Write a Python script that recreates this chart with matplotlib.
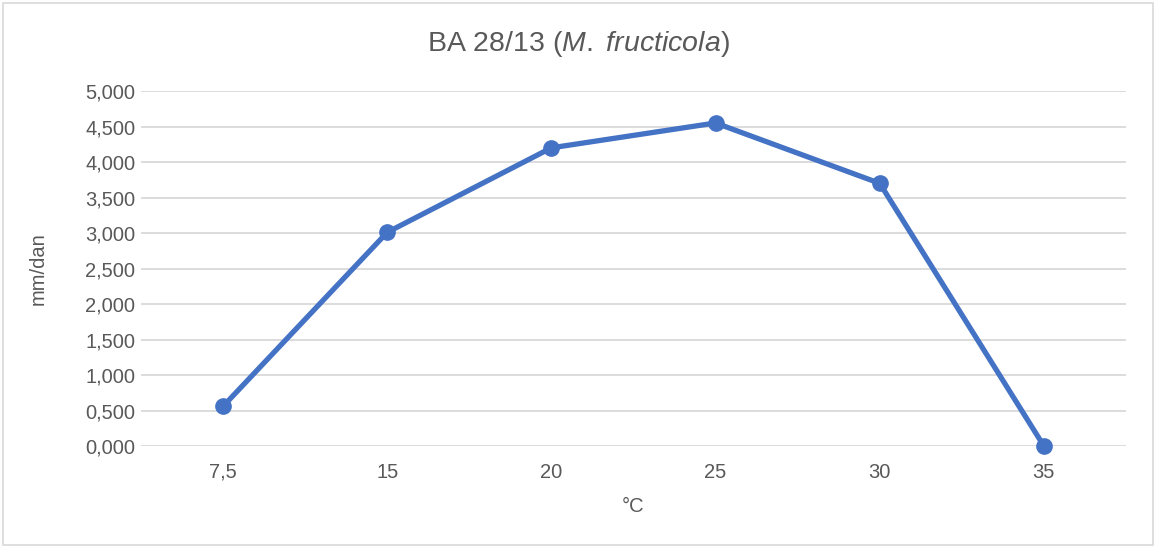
import matplotlib
matplotlib.use("Agg")
import matplotlib.pyplot as plt
from matplotlib.patches import Rectangle
from matplotlib.ticker import FuncFormatter, MultipleLocator

# growth rate per temperature
temps = ["7,5", "15", "20", "25", "30", "35"]
growth = [0.56, 3.01, 4.20, 4.55, 3.70, 0.0]

LINE_C = "#4472C4"
TEXT_C = "#595959"
GRID_C = "#D9D9D9"

plt.rcParams["font.family"] = ["Liberation Sans", "DejaVu Sans"]
plt.rcParams["mathtext.fontset"] = "custom"
plt.rcParams["mathtext.rm"] = "Liberation Sans"
plt.rcParams["mathtext.it"] = "Liberation Sans:italic"

fig = plt.figure(figsize=(11.56, 5.47), dpi=100)
ax = fig.add_axes([0.122, 0.1846, 0.852, 0.649])

x = range(len(temps))
ax.plot(x, growth, color=LINE_C, lw=3.8, marker="o", ms=11,
        solid_joinstyle="round", zorder=3, clip_on=False)

ax.set_xlim(-0.5, len(temps) - 0.5)
ax.set_ylim(0, 5)
ax.set_xticks(list(x))
ax.set_xticklabels(temps)
ax.yaxis.set_major_locator(MultipleLocator(0.5))
ax.yaxis.set_major_formatter(FuncFormatter(lambda v, _: f"{v:.3f}".replace(".", ",")))

ax.grid(axis="y", color=GRID_C, lw=1.3, zorder=0)
ax.set_axisbelow(True)
for s in ax.spines.values():
    s.set_visible(False)
ax.tick_params(axis="both", length=0, labelsize=14.5, colors=TEXT_C)
ax.tick_params(axis="x", pad=12)
ax.tick_params(axis="y", pad=4)

ax.set_xlabel("°C", fontsize=14.5, color=TEXT_C)
ax.set_ylabel("mm/dan", fontsize=14.5, color=TEXT_C)
ax.xaxis.set_label_coords(0.5, -0.145)
ax.yaxis.set_label_coords(-0.095, 0.5)

fig.text(0.5, 0.92, r"BA 28/13 ($\mathit{M.}$ $\mathit{fructicola}$)", ha="center",
         va="center", fontsize=20.5, color=TEXT_C)

# light frame round the chart area
fig.patches.append(Rectangle((0.003, 0.004), 0.994, 0.99, transform=fig.transFigure,
                             fill=False, ec=GRID_C, lw=1.2))

fig.savefig("out.png", dpi=100)
